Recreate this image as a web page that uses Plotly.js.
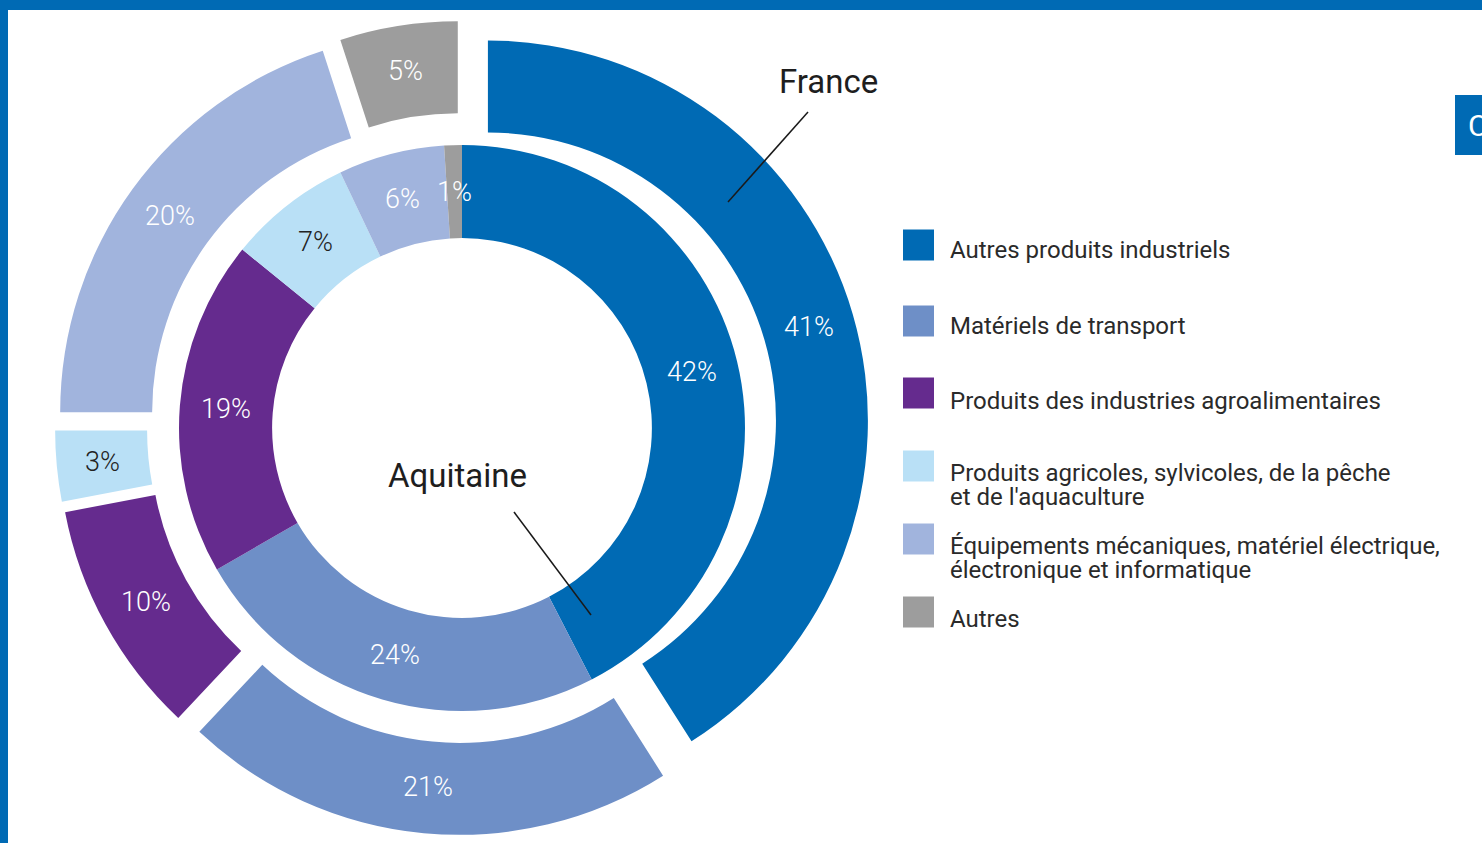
<!DOCTYPE html>
<html>
<head>
<meta charset="utf-8">
<script src="https://cdn.plot.ly/plotly-3.0.1.min.js"></script>
<style>html,body{margin:0;padding:0;background:#fff;}#chart{width:1482px;height:843px;}</style>
</head>
<body>
<div id="chart"></div>
<script>
// Categories (legend order)
const categories = [
  "Autres produits industriels",
  "Matériels de transport",
  "Produits des industries agroalimentaires",
  "Produits agricoles, sylvicoles, de la pêche<br>et de l'aquaculture",
  "Équipements mécaniques, matériel électrique,<br>électronique et informatique",
  "Autres"
];
// Aquitaine (inner ring) values, %
const aquitaineValues = [42, 24, 19, 7, 6, 1];
// France (outer ring) values, %
const franceValues = [41, 21, 10, 3, 20, 5];

const colors = ["#006ab4", "#6e8fc7", "#652b8e", "#b9e0f6", "#a1b4dd", "#9d9d9d"];
const textColors = ["#ffffff", "#ffffff", "#ffffff", "#222222", "#ffffff", "#ffffff"];

const W = 1482, H = 843;
const px = x => x / W;
const py = y => 1 - y / H;

const cx = 462, cy = 428;
const rOuter = 380, pullOuter = 0.071, holeOuter = 0.758;
const rInner = 283, holeInner = 0.671;
const halfOuter = rOuter * (1 + pullOuter);
const FONT = "Roboto, 'DejaVu Sans', sans-serif";

const traces = [
  {
    type: "pie",
    name: "France",
    labels: categories,
    values: franceValues,
    textinfo: "none",
    hole: holeOuter,
    pull: franceValues.map(() => pullOuter),
    sort: false,
    direction: "clockwise",
    rotation: 0,
    marker: {colors: colors, line: {width: 0}},
    showlegend: false,
    hoverinfo: "label+value",
    domain: {x: [px(cx - halfOuter), px(cx + halfOuter)], y: [py(cy + halfOuter), py(cy - halfOuter)]}
  },
  {
    type: "pie",
    name: "Aquitaine",
    labels: categories,
    values: aquitaineValues,
    textinfo: "none",
    hole: holeInner,
    sort: false,
    direction: "clockwise",
    rotation: 0,
    marker: {colors: colors, line: {width: 0}},
    showlegend: false,
    hoverinfo: "label+value",
    domain: {x: [px(cx - rInner), px(cx + rInner)], y: [py(cy + rInner), py(cy - rInner)]}
  }
];

const shapes = [
  // page frame
  {type: "rect", xref: "paper", yref: "paper", x0: 0, x1: 1, y0: py(10), y1: 1, fillcolor: "#006ab4", line: {width: 0}, layer: "below"},
  {type: "rect", xref: "paper", yref: "paper", x0: 0, x1: px(8), y0: 0, y1: 1, fillcolor: "#006ab4", line: {width: 0}, layer: "below"},
  {type: "rect", xref: "paper", yref: "paper", x0: px(1455), x1: 1, y0: py(155), y1: py(95), fillcolor: "#006ab4", line: {width: 0}},
  // leader lines
  {type: "line", xref: "paper", yref: "paper", x0: px(808), y0: py(112), x1: px(728), y1: py(202), line: {color: "#1a1a1a", width: 1.5}},
  {type: "line", xref: "paper", yref: "paper", x0: px(514), y0: py(512), x1: px(591), y1: py(615), line: {color: "#1a1a1a", width: 1.5}}
];

const legendRows = [245, 321, 393, 466, 539, 612];
legendRows.forEach((y, i) => {
  shapes.push({type: "rect", xref: "paper", yref: "paper", x0: px(903), x1: px(934), y0: py(y + 15.5), y1: py(y - 15.5), fillcolor: colors[i], line: {width: 0}});
});

const annotations = [
  {xref: "paper", yref: "paper", x: px(828), y: py(81), text: "France", showarrow: false, xanchor: "center", yanchor: "middle",
   font: {family: FONT, size: 33, color: "#1e1e1e"}},
  {xref: "paper", yref: "paper", x: px(458), y: py(476), text: "Aquitaine", showarrow: false, xanchor: "center", yanchor: "middle",
   font: {family: FONT, size: 33, color: "#1e1e1e"}},
  {xref: "paper", yref: "paper", x: px(1466), y: py(126), text: "C", showarrow: false, xanchor: "left", yanchor: "middle",
   font: {family: FONT, size: 30, color: "#ffffff"}}
];

// slice percentage labels, placed at each slice's mid-angle on the ring's mid-radius
function addSliceLabels(values, rMid, offset) {
  const total = values.reduce((a, b) => a + b, 0);
  let cum = 0;
  values.forEach((v, i) => {
    const th = (cum + v / 2) / total * 2 * Math.PI;
    cum += v;
    const r = rMid + offset;
    annotations.push({xref: "paper", yref: "paper",
      x: px(cx + r * Math.sin(th)), y: py(cy - r * Math.cos(th)),
      text: v + "%", showarrow: false, xanchor: "center", yanchor: "middle",
      font: {family: FONT, size: 27, weight: 300, color: textColors[i]}});
  });
}
addSliceLabels(franceValues, rOuter * (1 + holeOuter) / 2, rOuter * pullOuter);
addSliceLabels(aquitaineValues, rInner * (1 + holeInner) / 2, 0);

// legend texts (each line placed separately for tight line spacing)
const legendTextY = [250, 326, 401, 473, 546, 619];
categories.forEach((c, i) => {
  c.split("<br>").forEach((line, j) => {
    annotations.push({xref: "paper", yref: "paper", x: px(948), y: py(legendTextY[i] + j * 24), text: line, showarrow: false,
      xanchor: "left", yanchor: "middle", align: "left",
      font: {family: FONT, size: 24, color: "#2a2a2a"}});
  });
});

const layout = {
  width: W, height: H,
  margin: {l: 0, r: 0, t: 0, b: 0},
  paper_bgcolor: "#ffffff",
  plot_bgcolor: "#ffffff",
  showlegend: false,
  shapes: shapes,
  annotations: annotations
};

Plotly.newPlot("chart", traces, layout, {displayModeBar: false, staticPlot: true});
</script>
</body>
</html>
